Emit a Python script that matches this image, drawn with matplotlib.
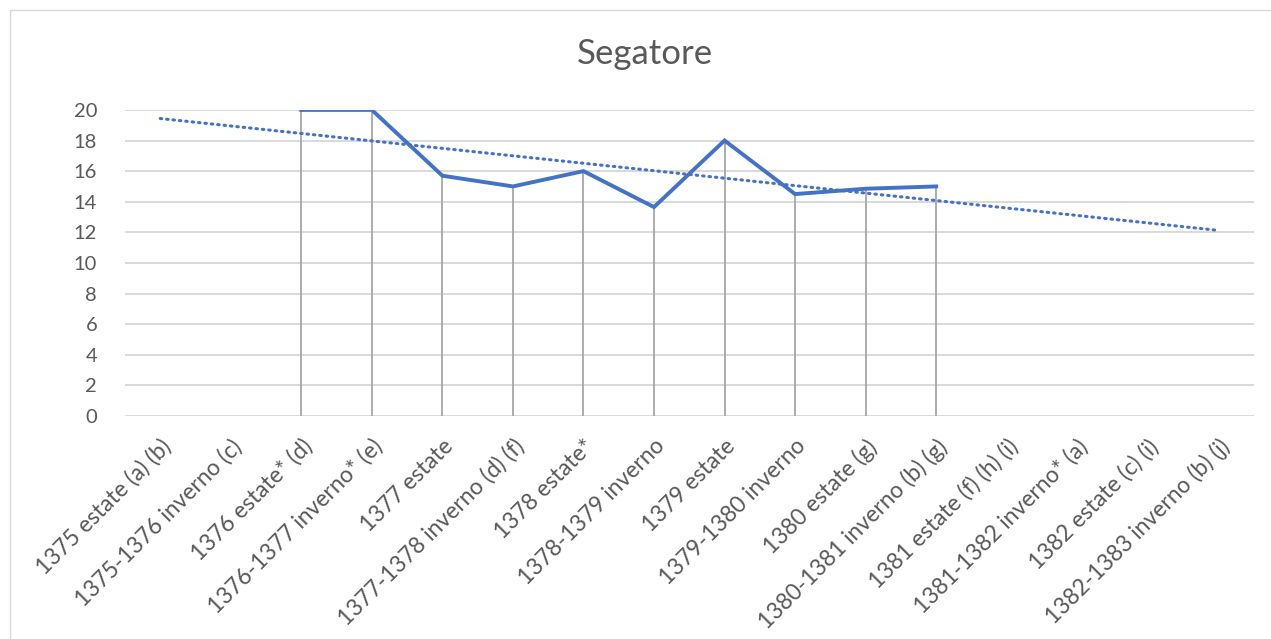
import numpy as np
import matplotlib.pyplot as plt
from matplotlib.patches import Rectangle

plt.rcParams['font.family'] = ['Lato', 'DejaVu Sans']

categories = ['1375 estate (a) (b)', '1375-1376 inverno (c)', '1376 estate* (d)',
              '1376-1377 inverno* (e)', '1377 estate', '1377-1378 inverno (d) (f)',
              '1378 estate*', '1378-1379 inverno', '1379 estate', '1379-1380 inverno',
              '1380 estate (g)', '1380-1381 inverno (b) (g)', '1381 estate (f) (h) (i)',
              '1381-1382 inverno* (a)', '1382 estate (c) (i)', '1382-1383 inverno (b) (j)']
values = [np.nan, np.nan, 20, 20, 15.7, 15, 16, 13.65, 18, 14.5, 14.85, 15,
          np.nan, np.nan, np.nan, np.nan]

x = np.arange(len(categories))
y = np.array(values, dtype=float)
ok = ~np.isnan(y)

fig = plt.figure(figsize=(12.71, 6.39), dpi=100)
ax = fig.add_axes([0.0983, 0.349, 0.888, 0.479])

# border of the chart area
fig.patches.append(Rectangle((0.008, -0.01), 1.5, 0.995, transform=fig.transFigure,
                             fill=False, edgecolor='#d9d9d9', lw=1))

for t in range(0, 21, 2):
    ax.axhline(t, color='#d9d9d9', lw=1.4, zorder=0)

ax.vlines(x[ok], 0, y[ok], color='#a6a6a6', lw=1.3, zorder=1)
ax.plot(x, y, color='#4472c4', lw=2.8, solid_joinstyle='miter', zorder=3)

# linear trend like Excel
k, b = np.polyfit(x[ok], y[ok], 1)
ax.plot(x, k * x + b, color='#4472c4', lw=2.2, linestyle=(0, (0.5, 1.6)),
        dash_capstyle='round', zorder=2)

ax.set_xlim(-0.5, len(categories) - 0.5)
ax.set_ylim(0, 20)
ax.set_yticks(range(0, 21, 2))
ax.set_xticks(x)
ax.set_xticklabels(categories, rotation=45, ha='right', rotation_mode='anchor')
ax.tick_params(length=0, labelsize=16.5, labelcolor='#595959')
ax.tick_params(axis='x', pad=14)
ax.tick_params(axis='y', pad=20)
for lbl in ax.get_yticklabels():
    lbl.set_fontsize(14.5)
for s in ax.spines.values():
    s.set_visible(False)

fig.text(0.507, 0.915, 'Segatore', ha='center', va='center', fontsize=25, color='#595959')

fig.savefig('out.png', dpi=100)
